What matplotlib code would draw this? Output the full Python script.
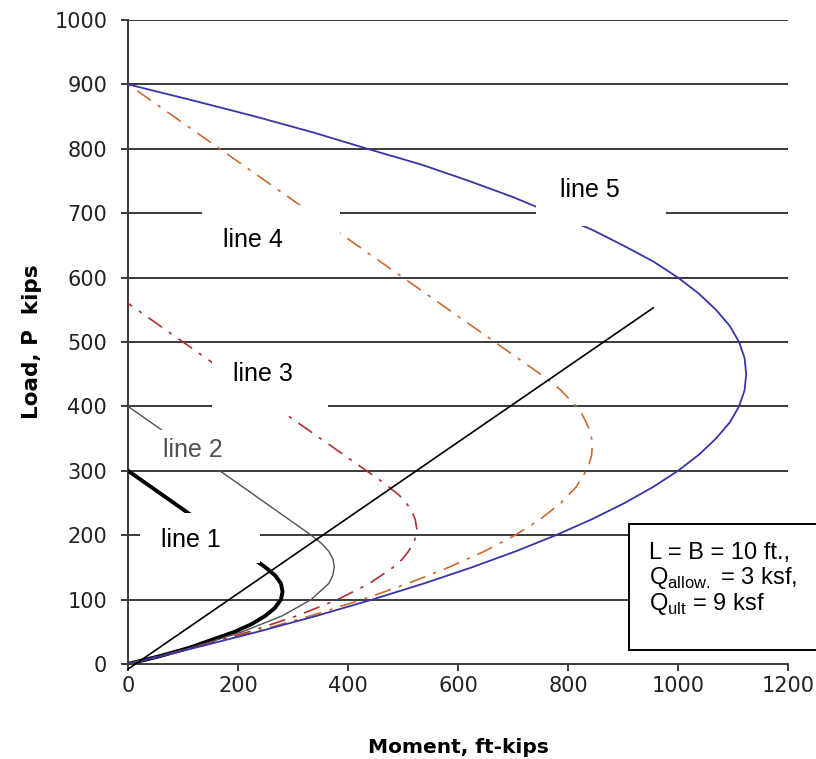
import matplotlib.pyplot as plt
from matplotlib.patches import Rectangle

plt.rcParams['mathtext.fontset'] = 'custom'
plt.rcParams['mathtext.rm'] = 'Liberation Sans'

# moment (ft-kips) vs load (kips)
line1_m = [0, 57, 111, 194, 225, 250, 267, 278, 281, 278, 268, 250, 125, 0]
line1_p = [0, 12, 25, 50, 62, 75, 87, 100, 112, 125, 137, 150, 225, 300]

line2_m = [0, 59, 115, 208, 281, 333, 365, 372, 375, 373, 365, 352, 333, 167, 0]
line2_p = [0, 12, 25, 50, 75, 100, 125, 137, 150, 162, 175, 187, 200, 300, 400]

line3_m = [0, 118, 220, 308, 381, 439, 482, 498, 510, 519, 524, 525, 522, 516,
           506, 493, 467, 233, 0]
line3_p = [0, 25, 50, 75, 100, 125, 150, 162, 175, 187, 200, 210, 225, 237,
           250, 262, 280, 420, 560]

line4_m = [0, 120, 231, 333, 426, 509, 583, 648, 704, 750, 787, 815, 833, 839,
           843, 844, 843, 840, 833, 826, 815, 787, 770, 750, 500, 250, 0]
line4_p = [0, 25, 50, 75, 100, 125, 150, 175, 200, 225, 250, 275, 300, 312,
           325, 338, 350, 362, 375, 387, 400, 425, 437, 450, 600, 750, 900]

line5_m = [0, 121, 236, 344, 444, 538, 625, 705, 778, 844, 903, 955, 1000, 1038,
           1069, 1094, 1111, 1121, 1124, 1121, 1111, 1094, 1069, 1038, 1000,
           955, 900, 842, 770, 700, 620, 535, 435, 338, 232, 118, 0]
line5_p = [0, 25, 50, 75, 100, 125, 150, 175, 200, 225, 250, 275, 300, 325,
           350, 375, 400, 425, 450, 475, 500, 525, 550, 575, 600,
           625, 650, 675, 700, 725, 750, 775, 800, 825, 850, 875, 900]

diag_m = [0, 955]
diag_p = [-8, 553]

x_ticks = [0, 200, 400, 600, 800, 1000, 1200]
y_ticks = [0, 100, 200, 300, 400, 500, 600, 700, 800, 900, 1000]

# label text, text position, white box (m0, m1, p0, p1)
labels = [
    ("line 1", 115, 193, (22, 240, 157, 234), 'black'),
    ("line 2", 117, 332, (58, 175, 301, 363), '#505050'),
    ("line 3", 246, 450, (153, 364, 391, 488), 'black'),
    ("line 4", 228, 658, (135, 386, 620, 713), 'black'),
    ("line 5", 839, 736, (741, 978, 680, 770), 'black'),
]

grid_col = '#3a3a3a'
dashdot = (0, (10, 5, 2, 5))

fig = plt.figure(figsize=(8.16, 7.59), dpi=100)
ax = fig.add_axes([0.1569, 0.1252, 0.8088, 0.8485])

for y in y_ticks[1:]:
    ax.axhline(y, color=grid_col, lw=1.4, zorder=1)

ax.plot(line1_m, line1_p, color='black', lw=2.8, zorder=3)
ax.plot(line2_m, line2_p, color='#505050', lw=1.0, zorder=3)
ax.plot(line3_m, line3_p, color='#b03030', lw=1.2, ls=dashdot, zorder=3)
ax.plot(line4_m, line4_p, color='#cc6a30', lw=1.2, ls=dashdot, zorder=3)
ax.plot(line5_m, line5_p, color='#3535a8', lw=1.3, zorder=3)
ax.plot(diag_m, diag_p, color='black', lw=1.2, zorder=4, clip_on=False)

for txt, tx, ty, (m0, m1, p0, p1), col in labels:
    ax.add_patch(Rectangle((m0, p0), m1 - m0, p1 - p0, facecolor='white',
                           edgecolor='none', zorder=5))
    ax.text(tx, ty, txt, ha='center', va='center', fontsize=18,
            family='Liberation Sans', color=col, zorder=6)

# note box at lower right
ax.add_patch(Rectangle((910, 22), 400, 195, facecolor='white', edgecolor='black',
                       lw=1.4, zorder=7, clip_on=False))
note = ['L = B = 10 ft.,', r'Q$_{\rm allow.}$ = 3 ksf,', r'Q$_{\rm ult}$ = 9 ksf']
for i, s in enumerate(note):
    ax.text(947, 173 - 40 * i, s, ha='left', va='center', fontsize=17,
            family='Liberation Sans', zorder=8, clip_on=False)

ax.set_xlim(0, 1200)
ax.set_ylim(0, 1000)
ax.set_xticks(x_ticks)
ax.set_yticks(y_ticks)
ax.tick_params(direction='out', length=5, width=1.4, color=grid_col,
               labelsize=15)
ax.tick_params(axis='y', pad=10)
ax.tick_params(axis='x', pad=4)
for lab in ax.get_xticklabels() + ax.get_yticklabels():
    lab.set_family('DejaVu Sans')
    lab.set_color('#222222')

for s in ['top', 'right']:
    ax.spines[s].set_visible(False)
for s in ['left', 'bottom']:
    ax.spines[s].set_color(grid_col)
    ax.spines[s].set_linewidth(1.4)

ax.set_xlabel('Moment, ft-kips', fontsize=14.5, fontweight='bold',
              family='DejaVu Sans', labelpad=30)
ax.set_ylabel('Load, P  kips', fontsize=15.5, fontweight='bold',
              family='DejaVu Sans', labelpad=9)

fig.savefig('out.png', dpi=100)
